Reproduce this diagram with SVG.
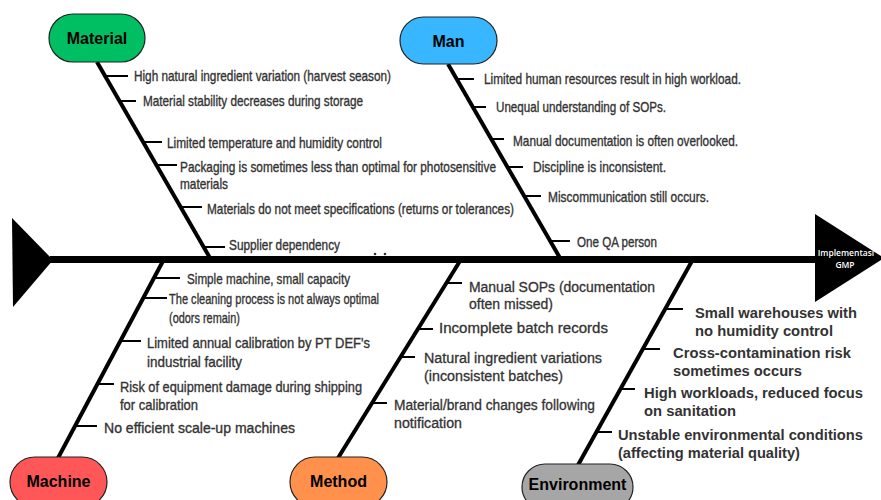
<svg xmlns="http://www.w3.org/2000/svg" width="881" height="500" viewBox="0 0 881 500">
<style>
.bg{fill:#ffffff}
.node rect{stroke:#222;stroke-width:1.2}
.lbl{font-family:"Liberation Sans",Arial,sans-serif;font-weight:bold;font-size:16px;fill:#000;text-anchor:middle}
.bone{stroke:#000;stroke-width:4;stroke-linecap:butt;fill:none}
.tick{stroke:#000;stroke-width:2;fill:none}
.spine{stroke:#000;stroke-width:7;fill:none}
.nar{font-family:"Liberation Sans Narrow","Liberation Sans",Arial,sans-serif;font-size:14.5px;fill:#333;stroke:#333;stroke-width:0.35}
.mac{font-family:"Liberation Sans Narrow","Liberation Sans",Arial,sans-serif;font-size:15px;fill:#333;stroke:#333;stroke-width:0.35}
.met{font-family:"Liberation Sans",Arial,sans-serif;font-size:14px;fill:#333;stroke:#333;stroke-width:0.3}
.env{font-family:"Liberation Sans",Arial,sans-serif;font-size:14.5px;font-weight:bold;fill:#333}
.head{font-family:"Open Sans","Liberation Sans",sans-serif;font-size:8.5px;font-weight:600;fill:#fff;text-anchor:middle}
</style>
<rect class="bg" x="0" y="0" width="881" height="500"/>

<g id="connectors">
  <line class="spine" x1="50" y1="259.5" x2="818" y2="259.5"/>
  <polygon id="tail" points="12,218 53,260 13,307" fill="#000"/>
  <line class="bone" x1="97" y1="62" x2="210" y2="258"/>
  <line class="bone" x1="448" y1="64" x2="560" y2="258"/>
  <line class="bone" x1="163" y1="261" x2="58" y2="458"/>
  <line class="bone" x1="460" y1="261" x2="338" y2="458"/>
  <line class="bone" x1="692" y1="261" x2="578" y2="465"/>
  <line class="tick" x1="105" y1="76" x2="128" y2="76"/>
  <line class="tick" x1="119" y1="101" x2="136" y2="101"/>
  <line class="tick" x1="143" y1="142" x2="162" y2="142"/>
  <line class="tick" x1="157" y1="165" x2="177" y2="165"/>
  <line class="tick" x1="181" y1="207" x2="202" y2="207"/>
  <line class="tick" x1="204" y1="247" x2="225" y2="247"/>
  <line class="tick" x1="457" y1="79" x2="474" y2="79"/>
  <line class="tick" x1="473" y1="107" x2="486" y2="107"/>
  <line class="tick" x1="492" y1="139" x2="504" y2="139"/>
  <line class="tick" x1="508" y1="167" x2="523" y2="167"/>
  <line class="tick" x1="525" y1="196" x2="541" y2="196"/>
  <line class="tick" x1="551" y1="241" x2="570" y2="241"/>
  <line class="tick" x1="155" y1="278" x2="180" y2="278"/>
  <line class="tick" x1="144" y1="298" x2="167" y2="298"/>
  <line class="tick" x1="121" y1="341" x2="141" y2="341"/>
  <line class="tick" x1="98" y1="384" x2="114" y2="384"/>
  <line class="tick" x1="75" y1="426" x2="97" y2="426"/>
  <line class="tick" x1="447" y1="283" x2="462" y2="283"/>
  <line class="tick" x1="418" y1="329" x2="433" y2="329"/>
  <line class="tick" x1="401" y1="357" x2="415" y2="357"/>
  <line class="tick" x1="372" y1="403" x2="387" y2="403"/>
  <line class="tick" x1="666" y1="309" x2="683" y2="309"/>
  <line class="tick" x1="643" y1="349" x2="660" y2="349"/>
  <line class="tick" x1="621" y1="389" x2="635" y2="389"/>
  <line class="tick" x1="596" y1="432" x2="612" y2="432"/>
  <circle cx="375" cy="254" r="1.3" fill="#333"/>
  <circle cx="385" cy="254" r="1.3" fill="#333"/>
</g>

<g id="head">
  <polygon points="815,214 884,258 815,302" fill="#000"/>
  <text class="head" x="846" y="256">Implementasi</text>
  <text class="head" x="845" y="268">GMP</text>
</g>

<g id="material" class="node">
  <rect x="49" y="14" width="96" height="48" rx="24" fill="#00bf63"/>
  <text class="lbl" x="97" y="44">Material</text>
  <text class="nar" x="134" y="81" textLength="257" lengthAdjust="spacingAndGlyphs">High natural ingredient variation (harvest season)</text>
  <text class="nar" x="143" y="106" textLength="220" lengthAdjust="spacingAndGlyphs">Material stability decreases during storage</text>
  <text class="nar" x="167" y="148" textLength="215" lengthAdjust="spacingAndGlyphs">Limited temperature and humidity control</text>
  <text class="nar" x="180" y="172" textLength="316" lengthAdjust="spacingAndGlyphs">Packaging is sometimes less than optimal for photosensitive</text>
  <text class="nar" x="180" y="189" textLength="48" lengthAdjust="spacingAndGlyphs">materials</text>
  <text class="nar" x="207" y="214" textLength="307" lengthAdjust="spacingAndGlyphs">Materials do not meet specifications (returns or tolerances)</text>
  <text class="nar" x="229" y="250" textLength="111" lengthAdjust="spacingAndGlyphs">Supplier dependency</text>
</g>

<g id="man" class="node">
  <rect x="400" y="17" width="97" height="47" rx="23.5" fill="#38b6ff"/>
  <text class="lbl" x="448.5" y="46.5">Man</text>
  <text class="nar" x="484" y="84" textLength="257" lengthAdjust="spacingAndGlyphs">Limited human resources result in high workload.</text>
  <text class="nar" x="496" y="112" textLength="170" lengthAdjust="spacingAndGlyphs">Unequal understanding of SOPs.</text>
  <text class="nar" x="513" y="146" textLength="225" lengthAdjust="spacingAndGlyphs">Manual documentation is often overlooked.</text>
  <text class="nar" x="533" y="172" textLength="133" lengthAdjust="spacingAndGlyphs">Discipline is inconsistent.</text>
  <text class="nar" x="548" y="202" textLength="161" lengthAdjust="spacingAndGlyphs">Miscommunication still occurs.</text>
  <text class="nar" x="577" y="247" textLength="80" lengthAdjust="spacingAndGlyphs">One QA person</text>
</g>

<g id="machine" class="node">
  <rect x="10" y="457" width="97" height="50" rx="25" fill="#ff5757"/>
  <text class="lbl" x="58.5" y="487">Machine</text>
  <text class="mac" x="187" y="284" textLength="163" lengthAdjust="spacingAndGlyphs">Simple machine, small capacity</text>
  <text class="mac" x="169" y="304" textLength="210" lengthAdjust="spacingAndGlyphs">The cleaning process is not always optimal</text>
  <text class="mac" x="169" y="323" textLength="71" lengthAdjust="spacingAndGlyphs">(odors remain)</text>
  <text class="mac" x="147" y="348" textLength="223" lengthAdjust="spacingAndGlyphs">Limited annual calibration by PT DEF's</text>
  <text class="mac" x="147" y="367" textLength="95" lengthAdjust="spacingAndGlyphs">industrial facility</text>
  <text class="mac" x="120" y="392" textLength="242" lengthAdjust="spacingAndGlyphs">Risk of equipment damage during shipping</text>
  <text class="mac" x="120" y="410" textLength="78" lengthAdjust="spacingAndGlyphs">for calibration</text>
  <text class="mac" x="104" y="433" textLength="191" lengthAdjust="spacingAndGlyphs">No efficient scale-up machines</text>
</g>

<g id="method" class="node">
  <rect x="290" y="457" width="97" height="50" rx="25" fill="#ff914d"/>
  <text class="lbl" x="338.5" y="487">Method</text>
  <text class="met" x="469" y="292" textLength="186" lengthAdjust="spacingAndGlyphs">Manual SOPs (documentation</text>
  <text class="met" x="469" y="309" textLength="84" lengthAdjust="spacingAndGlyphs">often missed)</text>
  <text class="met" x="439" y="333" textLength="169" lengthAdjust="spacingAndGlyphs">Incomplete batch records</text>
  <text class="met" x="424" y="363" textLength="178" lengthAdjust="spacingAndGlyphs">Natural ingredient variations</text>
  <text class="met" x="424" y="381" textLength="139" lengthAdjust="spacingAndGlyphs">(inconsistent batches)</text>
  <text class="met" x="394" y="410" textLength="201" lengthAdjust="spacingAndGlyphs">Material/brand changes following</text>
  <text class="met" x="394" y="428" textLength="68" lengthAdjust="spacingAndGlyphs">notification</text>
</g>

<g id="environment" class="node">
  <rect x="522" y="464" width="111" height="46" rx="23" fill="#a6a6a6"/>
  <text class="lbl" x="577.5" y="490">Environment</text>
  <text class="env" x="695" y="318" textLength="162" lengthAdjust="spacingAndGlyphs">Small warehouses with</text>
  <text class="env" x="695" y="336" textLength="138" lengthAdjust="spacingAndGlyphs">no humidity control</text>
  <text class="env" x="673" y="358" textLength="178" lengthAdjust="spacingAndGlyphs">Cross-contamination risk</text>
  <text class="env" x="673" y="376" textLength="129" lengthAdjust="spacingAndGlyphs">sometimes occurs</text>
  <text class="env" x="644" y="398" textLength="219" lengthAdjust="spacingAndGlyphs">High workloads, reduced focus</text>
  <text class="env" x="644" y="416" textLength="92" lengthAdjust="spacingAndGlyphs">on sanitation</text>
  <text class="env" x="618" y="440" textLength="245" lengthAdjust="spacingAndGlyphs">Unstable environmental conditions</text>
  <text class="env" x="618" y="458" textLength="182" lengthAdjust="spacingAndGlyphs">(affecting material quality)</text>
</g>
</svg>
